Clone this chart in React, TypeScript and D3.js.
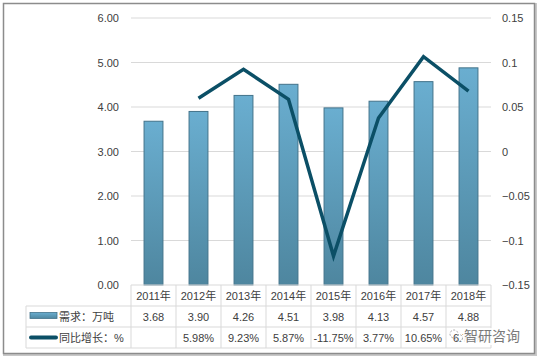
import React from "react";
import * as d3 from "d3";

const years = ["2011年", "2012年", "2013年", "2014年", "2015年", "2016年", "2017年", "2018年"];
const demand = [3.68, 3.9, 4.26, 4.51, 3.98, 4.13, 4.57, 4.88];
const growth: (number | null)[] = [null, 0.0598, 0.0923, 0.0587, -0.1175, 0.0377, 0.1065, 0.0678];
const growthLabels = ["", "5.98%", "9.23%", "5.87%", "-11.75%", "3.77%", "10.65%", "6.78%"];
const leftTicks = [0, 1, 2, 3, 4, 5, 6];
const rightTicks = [-0.15, -0.1, -0.05, 0, 0.05, 0.1, 0.15];
const barLegend = "需求：万吨";
const lineLegend = "同比增长：%";
const watermark = "智研咨询";

export default function App() {
  const W = 540, H = 360;
  const x0 = 131, x1 = 491, yTop = 18, yBot = 285;
  const x = d3.scaleBand<string>().domain(years).range([x0, x1]).padding(0);
  const yL = d3.scaleLinear().domain([0, 6]).range([yBot, yTop]);
  const yR = d3.scaleLinear().domain([-0.15, 0.15]).range([yBot, yTop]);
  const bw = x.bandwidth() * 0.42;
  const font = "'Liberation Sans', 'Noto Sans CJK SC', sans-serif";
  const txt = "#404040";
  const lineData = years.map((y, i) => ({ y, v: growth[i] })).filter(d => d.v !== null) as { y: string; v: number }[];
  const line = d3.line<{ y: string; v: number }>()
    .x(d => (x(d.y) as number) + x.bandwidth() / 2)
    .y(d => yR(d.v));
  const rows = [285, 306, 327, 348];
  const grid = "#d9d9d9";
  return (
    <svg width={W} height={H} style={{ position: "absolute", left: 0, top: 0 }} fontFamily={font}>
      <defs>
        <linearGradient id="barG" x1="0" y1="0" x2="0" y2="1">
          <stop offset="0" stopColor="#6aaed0" />
          <stop offset="1" stopColor="#4e869f" />
        </linearGradient>
        <linearGradient id="legG" x1="0" y1="0" x2="0" y2="1">
          <stop offset="0" stopColor="#6aaed0" />
          <stop offset="1" stopColor="#4e869f" />
        </linearGradient>
      </defs>
      <rect x={0} y={0} width={W} height={H} fill="#fff" />
      <rect x={4} y={4} width={532} height={351} fill="none" stroke="#c8c8c8" strokeWidth={2} />
      <rect x={3.5} y={3.5} width={531} height={350} fill="#fff" stroke="#8c8c8c" strokeWidth={1.5} />
      {leftTicks.map(t => (
        <g key={"l" + t}>
          {t > 0 && <line x1={x0} x2={x1} y1={yL(t)} y2={yL(t)} stroke={grid} strokeWidth={1} />}
          <text x={119} y={yL(t) + 4} textAnchor="end" fontSize={11} fill={txt}>{t.toFixed(2)}</text>
        </g>
      ))}
      {rightTicks.map(t => (
        <text key={"r" + t} x={502} y={yR(t) + 4} fontSize={11} fill={txt}>{d3.format("")(+t.toFixed(2))}</text>
      ))}
      {years.map((yr, i) => {
        const cx = (x(yr) as number) + x.bandwidth() / 2;
        return (
          <rect key={"b" + yr} x={cx - bw / 2} y={yL(demand[i])} width={bw} height={yBot - yL(demand[i])}
            fill="url(#barG)" stroke="#43738a" strokeWidth={1} />
        );
      })}
      <path d={line(lineData) || ""} fill="none" stroke="#0b4f66" strokeWidth={3.5} strokeLinejoin="miter" strokeLinecap="butt" />
      {/* table */}
      <g stroke={grid} strokeWidth={1}>
        <line x1={x0} x2={x1} y1={rows[0]} y2={rows[0]} />
        <line x1={26} x2={x1} y1={rows[1]} y2={rows[1]} />
        <line x1={26} x2={x1} y1={rows[2]} y2={rows[2]} />
        <line x1={26} x2={x1} y1={rows[3]} y2={rows[3]} />
        <line x1={26} x2={26} y1={rows[1]} y2={rows[3]} />
        {years.map(yr => (
          <line key={"v" + yr} x1={x(yr) as number} x2={x(yr) as number} y1={rows[0]} y2={rows[3]} />
        ))}
        <line x1={x1} x2={x1} y1={rows[0]} y2={rows[3]} />
      </g>
      {years.map((yr, i) => {
        const cx = (x(yr) as number) + x.bandwidth() / 2;
        return (
          <g key={"t" + yr} fontSize={11} fill={txt} textAnchor="middle">
            <text x={cx} y={300}>{yr}</text>
            <text x={cx} y={321}>{demand[i].toFixed(2)}</text>
            <text x={cx} y={342}>{growthLabels[i]}</text>
          </g>
        );
      })}
      <rect x={30} y={312.5} width={27} height={6} fill="url(#legG)" stroke="#43738a" strokeWidth={0.8} />
      <text x={59} y={321} fontSize={11} fill={txt}>{barLegend}</text>
      <line x1={31} x2={56} y1={337.5} y2={337.5} stroke="#0b4f66" strokeWidth={4} strokeLinecap="round" />
      <text x={59} y={342} fontSize={11} fill={txt}>{lineLegend}</text>
      {/* watermark */}
      <g>
        <rect x={463} y={328} width={60} height={17} fill="#fff" opacity={0.9} />
        <circle cx={454} cy={334} r={4} fill="none" stroke="#a8a8a8" strokeWidth={1} strokeDasharray="2 1.5" />
        <circle cx={459} cy={338} r={3.5} fill="none" stroke="#a8a8a8" strokeWidth={1} strokeDasharray="2 1.5" />
        <text x={464} y={341} fontSize={14} fill="#7a7a7a" fontFamily="'Noto Sans CJK SC', sans-serif">{watermark}</text>
      </g>
    </svg>
  );
}
